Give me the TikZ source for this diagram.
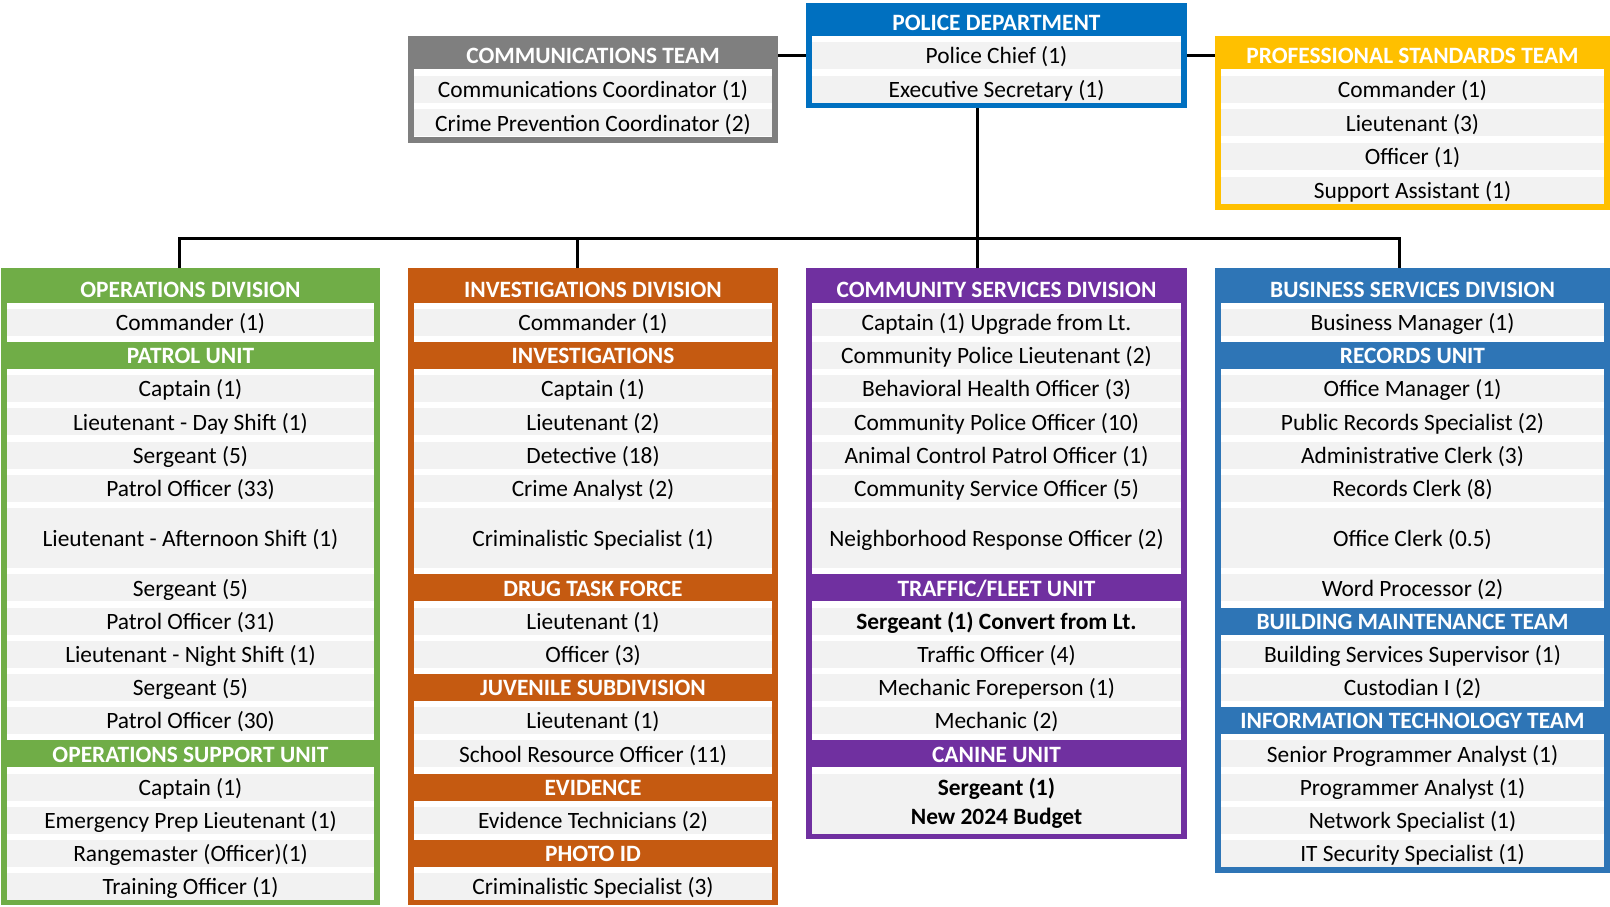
\documentclass[tikz,border=0pt]{standalone}
\usepackage{fontspec}
\setmainfont{Carlito}
\usetikzlibrary{calc}
\definecolor{opsgreen}{HTML}{70AD47}
\definecolor{invorange}{HTML}{C55A11}
\definecolor{compurple}{HTML}{7030A0}
\definecolor{bizblue}{HTML}{2E75B6}
\definecolor{chiefblue}{HTML}{0070C0}
\definecolor{stdgold}{HTML}{FFC000}
\definecolor{commgrey}{HTML}{7F7F7F}
\definecolor{rowgrey}{HTML}{F2F2F2}
\tikzset{x=1pt,y=-1pt}
\def\pitch{33.2}
\def\first{289}
\def\toppitch{33.6}
\def\topfirst{22}
\def\band{27}
\tikzset{
  frame/.style={anchor=north west, inner sep=0, outer sep=0},
  cellbase/.style={fill=rowgrey, inner sep=0, minimum height=\band,
    font=\fontsize{23.4}{29}\selectfont},
  cell/.style={cellbase, text height=18, text depth=1.5},
  head/.style={inner sep=0, minimum height=\band, text=white, text height=18, text depth=1.5,
    font=\bfseries\fontsize{23.4}{29}\selectfont},
  link/.style={line width=3, black}
}

\begin{document}
\begin{tikzpicture}
\useasboundingbox (0,0) rectangle (1610,906);

%% top row: chief and the two teams beside
\node[frame, fill=chiefblue, minimum width=381, minimum height=105] (policebox) at (806,3) {};
\fill[white] (812,35.5) rectangle (1181,102);
\node[head] (policehead) at (996.5,\topfirst) {POLICE DEPARTMENT};
\foreach \n/\lbl in {1/Police Chief (1), 2/Executive Secretary (1)}
  \node[cell, minimum width=369] (police-\n) at (996.5,{\topfirst+\n*\toppitch}) {\lbl};

\node[frame, fill=commgrey, minimum width=370, minimum height=107] (commbox) at (408,36) {};
\fill[white] (414,69.3) rectangle (772,137);
\node[head] (commhead) at (593,{\topfirst+\toppitch}) {COMMUNICATIONS TEAM};
\foreach \n/\lbl in {2/Communications Coordinator (1), 3/Crime Prevention Coordinator (2)}
  \node[cell, minimum width=358] (comm-\n) at (593,{\topfirst+\n*\toppitch}) {\lbl};

\node[frame, fill=stdgold, minimum width=395, minimum height=174] (stdbox) at (1215,36) {};
\fill[white] (1221,69.3) rectangle (1604,204);
\node[head] (stdhead) at (1412.5,{\topfirst+\toppitch}) {PROFESSIONAL STANDARDS TEAM};
\foreach \n/\lbl in {2/Commander (1), 3/Lieutenant (3), 4/Officer (1), 5/Support Assistant (1)}
  \node[cell, minimum width=383] (std-\n) at (1412.5,{\topfirst+\n*\toppitch}) {\lbl};

\draw[link] (commbox.east |- commhead) -- (policebox.west |- commhead);
\draw[link] (policebox.east |- stdhead) -- (stdbox.west |- stdhead);

%% divisions
\node[frame, fill=opsgreen, minimum width=379, minimum height=637] (opsbox) at (1,268) {};
\fill[white] (7,302.5) rectangle (374,899);
\foreach \n/\lbl in {1/OPERATIONS DIVISION, 3/PATROL UNIT, 15/OPERATIONS SUPPORT UNIT}
  \node[head, fill=opsgreen, minimum width=367] (ops-\n) at (190.5,{\first+(\n-1)*\pitch}) {\lbl};
\foreach \n/\lbl in {2/Commander (1), 4/Captain (1), 5/Lieutenant - Day Shift (1), 6/Sergeant (5),
    7/Patrol Officer (33), 10/Sergeant (5), 11/Patrol Officer (31), 12/Lieutenant - Night Shift (1),
    13/Sergeant (5), 14/Patrol Officer (30), 16/Captain (1), 17/Emergency Prep Lieutenant (1),
    18/Rangemaster (Officer)(1), 19/Training Officer (1)}
  \node[cell, minimum width=367] (ops-\n) at (190.5,{\first+(\n-1)*\pitch}) {\lbl};
\node[cell, minimum width=367, minimum height=60.2] (ops-8) at (190.5,{\first+7.5*\pitch}) {Lieutenant - Afternoon Shift (1)};

\node[frame, fill=invorange, minimum width=370, minimum height=637] (invbox) at (408,268) {};
\fill[white] (414,302.5) rectangle (772,899);
\foreach \n/\lbl in {1/INVESTIGATIONS DIVISION, 3/INVESTIGATIONS, 10/DRUG TASK FORCE,
    13/JUVENILE SUBDIVISION, 16/EVIDENCE, 18/PHOTO ID}
  \node[head, fill=invorange, minimum width=358] (inv-\n) at (593,{\first+(\n-1)*\pitch}) {\lbl};
\foreach \n/\lbl in {2/Commander (1), 4/Captain (1), 5/Lieutenant (2), 6/Detective (18),
    7/Crime Analyst (2), 11/Lieutenant (1), 12/Officer (3), 14/Lieutenant (1),
    15/School Resource Officer (11), 17/Evidence Technicians (2), 19/Criminalistic Specialist (3)}
  \node[cell, minimum width=358] (inv-\n) at (593,{\first+(\n-1)*\pitch}) {\lbl};
\node[cell, minimum width=358, minimum height=60.2] (inv-8) at (593,{\first+7.5*\pitch}) {Criminalistic Specialist (1)};

\node[frame, fill=compurple, minimum width=381, minimum height=571] (combox) at (806,268) {};
\fill[white] (812,302.5) rectangle (1181,834);
\foreach \n/\lbl in {1/COMMUNITY SERVICES DIVISION, 10/{TRAFFIC/FLEET UNIT}, 15/CANINE UNIT}
  \node[head, fill=compurple, minimum width=369] (com-\n) at (996.5,{\first+(\n-1)*\pitch}) {\lbl};
\foreach \n/\lbl in {2/Captain (1) Upgrade from Lt., 3/Community Police Lieutenant (2),
    4/Behavioral Health Officer (3), 5/Community Police Officer (10),
    6/Animal Control Patrol Officer (1), 7/Community Service Officer (5),
    12/Traffic Officer (4), 13/Mechanic Foreperson (1), 14/Mechanic (2)}
  \node[cell, minimum width=369] (com-\n) at (996.5,{\first+(\n-1)*\pitch}) {\lbl};
\node[cell, minimum width=369, minimum height=60.2] (com-8) at (996.5,{\first+7.5*\pitch}) {Neighborhood Response Officer (2)};
\node[cell, minimum width=369, font=\bfseries\fontsize{23.4}{29}\selectfont] (com-11) at (996.5,{\first+10*\pitch}) {Sergeant (1) Convert from Lt.};
\node[cellbase, minimum width=369, minimum height=60.2, align=center,
  font=\bfseries\fontsize{23.4}{29}\selectfont] (com-16) at (996.5,{\first+15.5*\pitch}) {Sergeant (1)\\New 2024 Budget};

\node[frame, fill=bizblue, minimum width=395, minimum height=605] (bizbox) at (1215,268) {};
\fill[white] (1221,302.5) rectangle (1604,867);
\foreach \n/\lbl in {1/BUSINESS SERVICES DIVISION, 3/RECORDS UNIT, 11/BUILDING MAINTENANCE TEAM,
    14/INFORMATION TECHNOLOGY TEAM}
  \node[head, fill=bizblue, minimum width=383] (biz-\n) at (1412.5,{\first+(\n-1)*\pitch}) {\lbl};
\foreach \n/\lbl in {2/Business Manager (1), 4/Office Manager (1), 5/Public Records Specialist (2),
    6/Administrative Clerk (3), 7/Records Clerk (8), 10/Word Processor (2),
    12/Building Services Supervisor (1), 13/Custodian I (2), 15/Senior Programmer Analyst (1),
    16/Programmer Analyst (1), 17/Network Specialist (1), 18/IT Security Specialist (1)}
  \node[cell, minimum width=383] (biz-\n) at (1412.5,{\first+(\n-1)*\pitch}) {\lbl};
\node[cell, minimum width=383, minimum height=60.2] (biz-8) at (1412.5,{\first+7.5*\pitch}) {Office Clerk (0.5)};

%% reporting lines
\coordinate (spine) at (977,238);
\coordinate (opsdrop) at (179,238);
\coordinate (invdrop) at (577,238);
\coordinate (bizdrop) at (1399,238);
\draw[link] (policebox.south -| spine) -- (combox.north -| spine);
\draw[link] (opsbox.north -| opsdrop) -- (opsdrop) -- (bizdrop) -- (bizbox.north -| bizdrop);
\draw[link] (invdrop) -- (invbox.north -| invdrop);

\end{tikzpicture}
\end{document}
